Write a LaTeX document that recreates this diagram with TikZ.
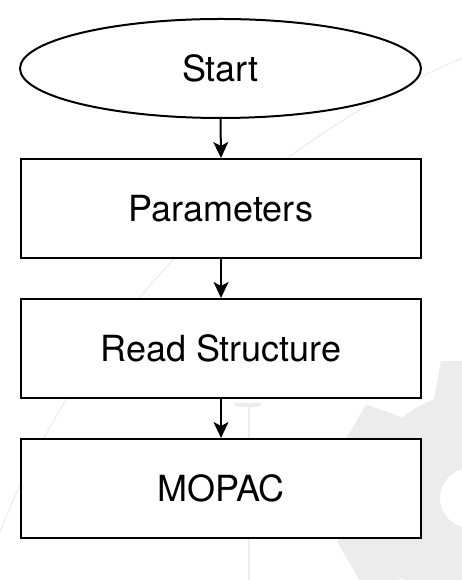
\documentclass[tikz,border=0pt]{standalone}
\usepackage{fontspec}
\setmainfont{TeX Gyre Heros}
\usetikzlibrary{shapes.geometric,arrows.meta}
\definecolor{wmgray}{gray}{0.925}
\definecolor{wmline}{gray}{0.93}
\tikzset{
  flowbox/.style={draw=black, line width=2pt, fill=white, rectangle,
    minimum width=400pt, minimum height=99pt, inner sep=0pt,
    font=\fontsize{36}{43}\selectfont, text height=26pt, text depth=0pt},
  startshape/.style={flowbox, ellipse, minimum width=401pt, minimum height=99pt},
  flowarrow/.style={draw=black, line width=2pt,
    -{Stealth[length=16pt, width=15pt, inset=4pt]}}
}
\begin{document}
\begin{tikzpicture}[x=1pt, y=1pt]
\useasboundingbox (0,0) rectangle (462,580);
\begin{scope}
\clip (0,0) rectangle (462,580);
% faint watermark
\fill[wmgray, even odd rule, shift={(470pt,82pt)}]
  (70:105pt) \foreach \a in {90,150,...,390} {
    -- (\a-20:105pt) -- (\a-12:140pt) -- (\a+12:140pt) -- (\a+20:105pt)
    arc[start angle=\a+20, end angle=\a+40, radius=105pt] } -- cycle
  (0,0) circle[radius=30pt];
\draw[wmline, line width=1.2pt, shift={(800pt,-270pt)}]
  (160:861pt) arc[start angle=160, end angle=108, radius=861pt];
\fill[wmline] (233,177) -- (262,177) -- (258,173) -- (237,173) -- cycle;
\draw[wmline, line width=1.8pt] (249,175) -- (249,0);
\end{scope}
% flowchart
\node[startshape] (start) at (220.5,511.5) {Start};
\node[flowbox] (params) at (221,371.5) {Parameters};
\node[flowbox] (read) at (221,231.5) {Read Structure};
\node[flowbox] (mopac) at (221,91.5) {MOPAC};
\draw[flowarrow] (start.south) -- (params.north);
\draw[flowarrow] (params.south) -- (read.north);
\draw[flowarrow] (read.south) -- (mopac.north);
\end{tikzpicture}
\end{document}
